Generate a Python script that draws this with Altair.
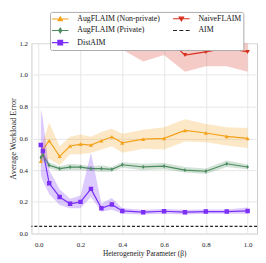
import altair as alt
import pandas as pd

beta = [0.01, 0.02, 0.05, 0.1, 0.15, 0.2, 0.25, 0.3, 0.35, 0.4, 0.5, 0.6, 0.7, 0.8, 0.9, 1.0]

aug_np = [0.456, 0.53, 0.585, 0.487, 0.552, 0.564, 0.558, 0.585, 0.61, 0.572, 0.595, 0.60, 0.65, 0.634, 0.613, 0.60]
aug_np_lo = [0.41, 0.46, 0.47, 0.43, 0.50, 0.50, 0.51, 0.53, 0.55, 0.51, 0.535, 0.53, 0.58, 0.575, 0.555, 0.54]
aug_np_hi = [0.50, 0.58, 0.70, 0.55, 0.61, 0.625, 0.61, 0.64, 0.66, 0.63, 0.655, 0.67, 0.72, 0.69, 0.67, 0.665]

aug_p = [0.48, 0.495, 0.43, 0.41, 0.419, 0.419, 0.41, 0.41, 0.405, 0.434, 0.42, 0.425, 0.40, 0.393, 0.44, 0.42]
aug_p_lo = [0.45, 0.46, 0.41, 0.395, 0.40, 0.40, 0.395, 0.39, 0.39, 0.415, 0.40, 0.405, 0.385, 0.375, 0.42, 0.405]
aug_p_hi = [0.52, 0.52, 0.45, 0.425, 0.44, 0.435, 0.425, 0.43, 0.42, 0.45, 0.44, 0.445, 0.42, 0.41, 0.46, 0.435]

dist = [0.558, 0.52, 0.317, 0.231, 0.188, 0.2, 0.282, 0.16, 0.184, 0.143, 0.135, 0.141, 0.135, 0.139, 0.139, 0.143]
dist_lo = [0.37, 0.33, 0.25, 0.18, 0.16, 0.16, 0.23, 0.14, 0.15, 0.125, 0.12, 0.125, 0.12, 0.125, 0.125, 0.125]
dist_hi = [0.785, 0.72, 0.40, 0.28, 0.22, 0.24, 0.51, 0.19, 0.225, 0.16, 0.15, 0.155, 0.15, 0.152, 0.152, 0.165]

naive = [1.9, 1.8, 1.6, 1.5, 1.45, 1.4, 1.38, 1.35, 1.3, 1.28, 1.19, 1.25, 1.125, 1.145, 1.17, 1.145]
naive_lo = [1.6, 1.55, 1.4, 1.35, 1.3, 1.27, 1.24, 1.19, 1.18, 1.16, 1.085, 1.125, 1.02, 1.055, 1.055, 1.02]
naive_hi = [2.2, 2.1, 1.8, 1.7, 1.6, 1.55, 1.5, 1.5, 1.45, 1.4, 1.3, 1.35, 1.25, 1.25, 1.28, 1.26]

aim_value = [0.046]

NP = "AugFLAIM (Non-private)"
NV = "NaiveFLAIM"
PR = "AugFLAIM (Private)"
AIM = "AIM"
DA = "DistAIM"
order = [NP, PR, DA, NV, AIM]
colors = ["#f5a21b", "#4c8c5e", "#7b2ff7", "#d7301f", "#222222"]

rows = []
for name, m, lo, hi in [(NP, aug_np, aug_np_lo, aug_np_hi), (PR, aug_p, aug_p_lo, aug_p_hi),
                        (DA, dist, dist_lo, dist_hi), (NV, naive, naive_lo, naive_hi)]:
    for b, v, l, h in zip(beta, m, lo, hi):
        rows.append({"beta": b, "err": v, "lo": l, "hi": h, "series": name, "mk": name})
df = pd.DataFrame(rows)
aim_df = pd.DataFrame({"err": aim_value, "series": [AIM]})

FONT = "Liberation Serif"
color_scale = alt.Scale(domain=order, range=colors)

x_enc = alt.X("beta:Q", scale=alt.Scale(domain=[-0.035, 1.045], nice=False, zero=False),
              axis=alt.Axis(values=[0, 0.2, 0.4, 0.6, 0.8, 1.0], format=".1f",
                            title="Heterogeneity Parameter (β)", labelPadding=7.5, titlePadding=1.5,
                            titleFontSize=7.5))
y_axis = alt.Axis(values=[0, 0.2, 0.4, 0.6, 0.8, 1.0, 1.2], format=".1f",
                  title="Average Workload Error", labelPadding=4, titlePadding=1.5, titleFontSize=8.5)
y_scale = alt.Scale(domain=[0, 1.2], nice=False, zero=False)

R = 3.5
def u(px):
    return round(px / R, 3)
L = u(8.5)
paths = {
    NP: f"M{-L},0H{L}M0,{-u(2.2)}L{u(2.2)},{u(1.6)}L{-u(2.2)},{u(1.6)}Z",
    NV: f"M{-L},0H{L}M0,{u(2.2)}L{u(2.2)},{-u(1.6)}L{-u(2.2)},{-u(1.6)}Z",
    PR: f"M{-L},0H{L}M0,{-u(2.4)}L{u(1.5)},0L0,{u(2.4)}L{-u(1.5)},0Z",
    AIM: f"M{-L},0H{-u(4.5)}M{-u(2.0)},0H{u(2.0)}M{u(4.5)},0H{L}",
    DA: f"M{-L},0H{L}M{-u(2.4)},{-u(2.4)}H{u(2.4)}V{u(2.4)}H{-u(2.4)}Z",
}
shape_expr = "".join(f"datum.value === '{k}' ? '{v}' : " for k, v in paths.items()) + "'circle'"

legend = alt.Legend(
    title=None, orient="none", legendX=19, legendY=-32, columns=2,
    columnPadding=10, rowPadding=1.5, padding=2,
    fillColor="white", strokeColor="#aaaaaa", cornerRadius=2,
    symbolSize=49, symbolStrokeWidth=1.2, symbolOffset=4, labelOffset=13,
    symbolOpacity=1,
    symbolType={"expr": shape_expr},
    symbolFillColor={"expr": "scale('color', datum.value)"},
    symbolStrokeColor={"expr": "scale('color', datum.value)"},
    labelFont=FONT, labelFontSize=8, labelColor="#111111",
)

color_enc = alt.Color("series:N", scale=color_scale, legend=legend)

base = alt.Chart(df)

lines = base.mark_line(strokeWidth=1.2, clip=True).encode(
    x=x_enc,
    y=alt.Y("err:Q", scale=y_scale, axis=y_axis),
    color=color_enc,
)

bands = base.mark_area(opacity=0.25, clip=True).encode(
    x=x_enc,
    y=alt.Y("lo:Q", scale=y_scale, axis=y_axis),
    y2="hi:Q",
    color=color_enc,
)

aim_rule = alt.Chart(aim_df).mark_rule(strokeDash=[3, 2], strokeWidth=1.2).encode(
    y=alt.Y("err:Q", scale=y_scale, axis=y_axis),
    color=color_enc,
)

mk_order = [NP, PR, DA, NV]
points = base.mark_point(filled=True, opacity=1, clip=True).encode(
    x=x_enc,
    y=alt.Y("err:Q", scale=y_scale, axis=y_axis),
    color=color_enc,
    shape=alt.Shape("mk:N", scale=alt.Scale(domain=mk_order, range=[
        "triangle-up", "M0,-1L0.6,0L0,1L-0.6,0Z", "square", "triangle-down"]), legend=None),
    size=alt.Size("mk:N", scale=alt.Scale(domain=mk_order, range=[18, 22, 28, 20]), legend=None),
)

chart = alt.layer(lines, bands, aim_rule, points).properties(
    width=231, height=195, padding=0,
).configure_view(stroke="#cccccc", strokeWidth=1).configure_axis(
    grid=True, gridColor="#e6e6e6", gridWidth=1, domain=False, ticks=False, tickSize=0,
    labelFont=FONT, labelFontSize=7, labelColor="#222222",
    titleFont=FONT, titleFontWeight="normal", titleColor="#222222",
)

chart.save("out.html", embed_options={"renderer": "svg", "actions": False})
